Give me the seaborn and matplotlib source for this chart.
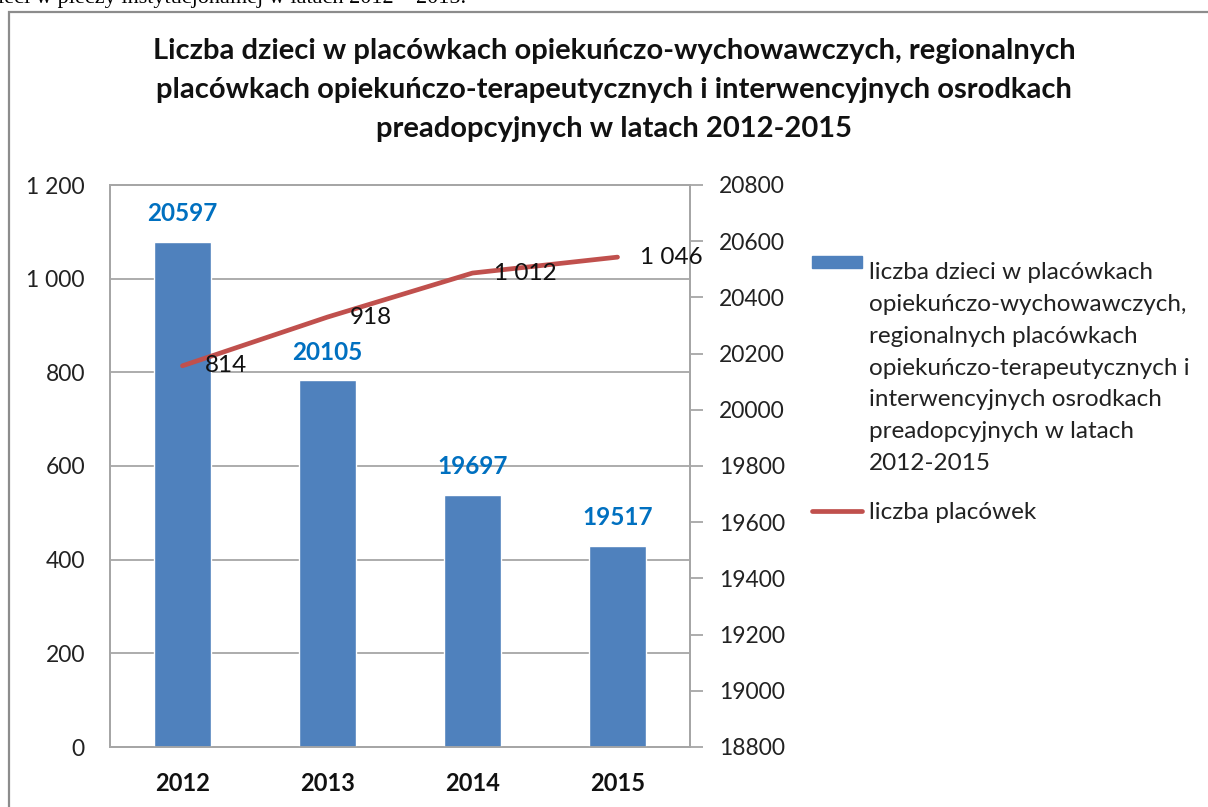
import numpy as np
import pandas as pd
import matplotlib.pyplot as plt
import matplotlib.patches as mpatches
from matplotlib.lines import Line2D
from matplotlib.legend_handler import HandlerPatch
import seaborn as sns

years = ["2012", "2013", "2014", "2015"]
children = [20597, 20105, 19697, 19517]
facilities = [814, 918, 1012, 1046]

title = ("Liczba dzieci w placówkach opiekuńczo-wychowawczych, regionalnych\n"
         "placówkach opiekuńczo-terapeutycznych i interwencyjnych osrodkach\n"
         "preadopcyjnych w latach 2012-2015")
bar_label = ("liczba dzieci w placówkach\nopiekuńczo-wychowawczych,\nregionalnych placówkach\n"
             "opiekuńczo-terapeutycznych i\ninterwencyjnych osrodkach\npreadopcyjnych w latach\n2012-2015")
line_label = "liczba placówek"
top_text = "ieci w pieczy instytucjonalnej w latach 2012 – 2015."

df = pd.DataFrame({"rok": years, "dzieci": children, "placowki": facilities})

sns.set_theme(style="white")
plt.rcParams["font.family"] = ["Lato", "DejaVu Sans"]

W, H = 1208, 807
fig = plt.figure(figsize=(W / 100, H / 100), dpi=100)
fig.patch.set_facecolor("white")

# cut-off document text above the chart
fig.text(-2 / W, 1 - 3 / H, top_text, family="Liberation Serif", fontsize=16,
         va="baseline", ha="left", color="black")

# chart frame
fig.patches.append(mpatches.Rectangle((9 / W, -0.1), 1.2, 1 - 12 / H + 0.1,
                                      transform=fig.transFigure, fill=False,
                                      edgecolor="#8c8c8c", linewidth=1.6))

fig.text(614 / W, 1 - 90 / H, title, ha="center", va="center", fontsize=21,
         fontweight="bold", linespacing=1.6, color="#111111")

rect = [110 / W, 1 - 747 / H, 580 / W, 562 / H]
grid_c = "#a6a6a6"
lab_fs = 16.5

# base axes: left scale and gridlines
ax = fig.add_axes(rect)
ax.set_ylim(0, 1200)
ax.set_yticks(range(0, 1201, 200))
ax.set_yticklabels([f"{v:,}".replace(",", " ") for v in range(0, 1201, 200)])
ax.yaxis.grid(True, color=grid_c, linewidth=1.3)
ax.tick_params(axis="y", length=0, pad=18, labelsize=lab_fs, labelcolor="#222222")
for s in ax.spines.values():
    s.set_color(grid_c)
    s.set_linewidth(1.3)

# bars on right scale
ax2 = ax.twinx()
sns.barplot(data=df, x="rok", y="dzieci", ax=ax2, color="#4f81bd", width=0.39,
            saturation=1)
ax2.set_ylim(18800, 20800)
ax2.set_yticks(range(18800, 20801, 200))
ax2.tick_params(axis="y", direction="out", length=9, color=grid_c, width=1.3,
                pad=12, labelsize=lab_fs, labelcolor="#222222")
ax2.set_ylabel("")
ax2.set_xlabel("")
ax2.bar_label(ax2.containers[0], padding=12, color="#0070c0", fontweight="bold",
              fontsize=17.5)
for s in ax2.spines.values():
    s.set_color(grid_c)
    s.set_linewidth(1.3)

# line on left scale, drawn on top
ax3 = ax.twinx()
sns.lineplot(data=df, x="rok", y="placowki", ax=ax3, color="#c0504d",
             linewidth=3.4, sort=False)
ax3.set_ylim(0, 1200)
ax3.set_yticks([])
ax3.set_ylabel("")
ax3.set_xlabel("")
for s in ax3.spines.values():
    s.set_visible(False)
for i, v in enumerate(facilities):
    ax3.annotate(f"{v:,}".replace(",", " "), (i, v), xytext=(22, 0),
                 textcoords="offset pixels", va="center", ha="left",
                 fontsize=17.5, color="#111111")

for a in (ax, ax2, ax3):
    a.set_xlim(-0.5, 3.5)
ax.tick_params(axis="x", length=0, pad=18, labelbottom=True, labelsize=17,
               labelcolor="#111111")
plt.setp(ax.get_xticklabels(), fontweight="bold")


def top_patch(legend, orig_handle, xdescent, ydescent, width, height, fontsize):
    # put the colour box next to the first line of the long label
    return mpatches.Rectangle((-xdescent, -ydescent + 78), width, 9)


handles = [mpatches.Patch(color="#4f81bd"),
           Line2D([], [], color="#c0504d", linewidth=3.4)]
leg = fig.legend(handles, [bar_label, line_label], loc="upper left",
                 bbox_to_anchor=(790 / W, 1 - 240 / H), frameon=False, fontsize=17.5,
                 handlelength=2.05, handletextpad=0.3, labelspacing=1.15,
                 labelcolor="#222222",
                 handler_map={mpatches.Patch: HandlerPatch(patch_func=top_patch)})
for t in leg.get_texts():
    t.set_linespacing(1.64)

fig.savefig("out.png", dpi=100)
